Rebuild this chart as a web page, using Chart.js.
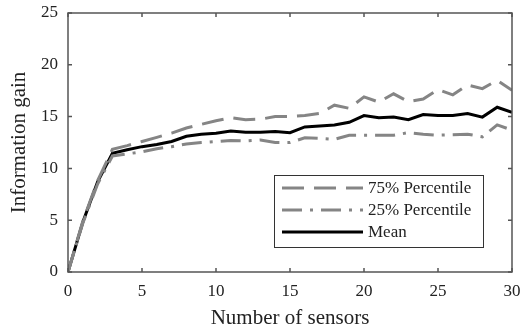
<!DOCTYPE html>
<html>
<head>
<meta charset="utf-8">
<script src="https://cdn.jsdelivr.net/npm/chart.js@4"></script>
<style>
  body { margin: 0; background: #fff; }
  canvas { display: block; }
</style>
</head>
<body>
<canvas id="gainChart" width="520" height="328"></canvas>
<script>
const sensors = [0, 1, 2, 3, 4, 5, 6, 7, 8, 9, 10, 11, 12, 13, 14, 15, 16, 17, 18, 19, 20, 21, 22, 23, 24, 25, 26, 27, 28, 29, 30];
const meanGain = [0, 4.8, 8.7, 11.45, 11.8, 12.1, 12.3, 12.6, 13.1, 13.3, 13.4, 13.6, 13.5, 13.5, 13.55, 13.45, 14.0, 14.1, 14.2, 14.45, 15.1, 14.9, 14.95, 14.7, 15.2, 15.1, 15.1, 15.3, 14.95, 15.9, 15.4];
const p75Gain = [0, 4.9, 8.8, 11.85, 12.2, 12.6, 13.0, 13.4, 13.9, 14.25, 14.6, 14.9, 14.7, 14.75, 15.0, 15.0, 15.1, 15.3, 16.1, 15.8, 16.9, 16.4, 17.2, 16.45, 16.7, 17.6, 17.1, 18.05, 17.7, 18.5, 17.55];
const p25Gain = [0, 4.7, 8.5, 11.2, 11.4, 11.6, 11.9, 12.1, 12.35, 12.5, 12.6, 12.7, 12.65, 12.75, 12.5, 12.5, 12.95, 12.9, 12.8, 13.2, 13.2, 13.2, 13.2, 13.45, 13.3, 13.2, 13.25, 13.3, 13.05, 14.2, 13.7];
const xTicks = [0, 5, 10, 15, 20, 25, 30];
const yTicks = [0, 5, 10, 15, 20, 25];

const frameColor = '#555';
const textColor = '#222';
const tickFont = { family: 'Liberation Serif', size: 17 };
const titleFont = { family: 'Liberation Serif', size: 21 };

const toPoints = (ys) => ys.map((y, i) => ({ x: sensors[i], y: y }));

// box round the plot with inward ticks on all four sides
const frameTicks = {
    id: 'frameTicks',
    afterDraw(chart) {
        const { ctx, chartArea: a, scales } = chart;
        ctx.save();
        ctx.strokeStyle = frameColor;
        ctx.lineWidth = 1.5;
        ctx.strokeRect(a.left, a.top, a.right - a.left, a.bottom - a.top);
        ctx.beginPath();
        xTicks.forEach(v => {
            const px = scales.x.getPixelForValue(v);
            ctx.moveTo(px, a.bottom); ctx.lineTo(px, a.bottom - 4);
            ctx.moveTo(px, a.top); ctx.lineTo(px, a.top + 4);
        });
        yTicks.forEach(v => {
            const py = scales.y.getPixelForValue(v);
            ctx.moveTo(a.left, py); ctx.lineTo(a.left + 4, py);
            ctx.moveTo(a.right, py); ctx.lineTo(a.right - 4, py);
        });
        ctx.stroke();
        ctx.restore();
    }
};

// legend inside the plot, lower right
const boxLegend = {
    id: 'boxLegend',
    afterDatasetsDraw(chart) {
        const { ctx } = chart;
        const bx = 274, by = 175, bw = 209, bh = 72;
        ctx.save();
        ctx.fillStyle = '#fff';
        ctx.fillRect(bx, by, bw, bh);
        ctx.strokeStyle = '#333';
        ctx.lineWidth = 1;
        ctx.strokeRect(bx + 0.5, by + 0.5, bw, bh);
        ctx.font = '17px "Liberation Serif"';
        ctx.textBaseline = 'middle';
        chart.data.datasets.forEach((ds, i) => {
            const y = by + 13 + i * 22;
            ctx.strokeStyle = ds.borderColor;
            ctx.lineWidth = ds.borderWidth;
            ctx.setLineDash(ds.borderDash || []);
            ctx.beginPath();
            ctx.moveTo(bx + 8, y);
            ctx.lineTo(bx + 89, y);
            ctx.stroke();
            ctx.setLineDash([]);
            ctx.fillStyle = textColor;
            ctx.fillText(ds.label, bx + 94, y + 1);
        });
        ctx.restore();
    }
};

new Chart(document.getElementById('gainChart').getContext('2d'), {
    type: 'line',
    data: {
        datasets: [
            {
                label: '75% Percentile',
                data: toPoints(p75Gain),
                borderColor: '#858585',
                borderWidth: 3,
                borderDash: [22, 10]
            },
            {
                label: '25% Percentile',
                data: toPoints(p25Gain),
                borderColor: '#858585',
                borderWidth: 3,
                borderDash: [20, 8, 3, 8]
            },
            {
                label: 'Mean',
                data: toPoints(meanGain),
                borderColor: '#000',
                borderWidth: 3
            }
        ]
    },
    options: {
        responsive: false,
        animation: false,
        layout: { padding: { top: 13, right: 8, left: 0, bottom: 0 } },
        elements: { point: { radius: 0 }, line: { tension: 0, borderCapStyle: 'butt' } },
        plugins: { legend: { display: false }, tooltip: { enabled: false } },
        scales: {
            x: {
                type: 'linear',
                min: 0,
                max: 30,
                afterFit(s) { s.height = 56; s.paddingLeft = 0; s.paddingRight = 0; },
                afterBuildTicks(s) { s.ticks = xTicks.map(v => ({ value: v })); },
                ticks: { font: tickFont, color: textColor, padding: 9, maxRotation: 0 },
                grid: { display: false, drawTicks: false },
                border: { display: false },
                title: { display: true, text: 'Number of sensors', font: titleFont, color: textColor, padding: { top: 0, bottom: -3 } }
            },
            y: {
                min: 0,
                max: 25,
                afterFit(s) { s.width = 68; s.paddingTop = 0; s.paddingBottom = 0; },
                afterBuildTicks(s) { s.ticks = yTicks.map(v => ({ value: v })); },
                ticks: { font: tickFont, color: textColor, padding: 10 },
                grid: { display: false, drawTicks: false },
                border: { display: false },
                title: { display: true, text: 'Information gain', font: titleFont, color: textColor, padding: { top: 7, bottom: 0 } }
            }
        }
    },
    plugins: [boxLegend, frameTicks]
});
</script>
</body>
</html>
